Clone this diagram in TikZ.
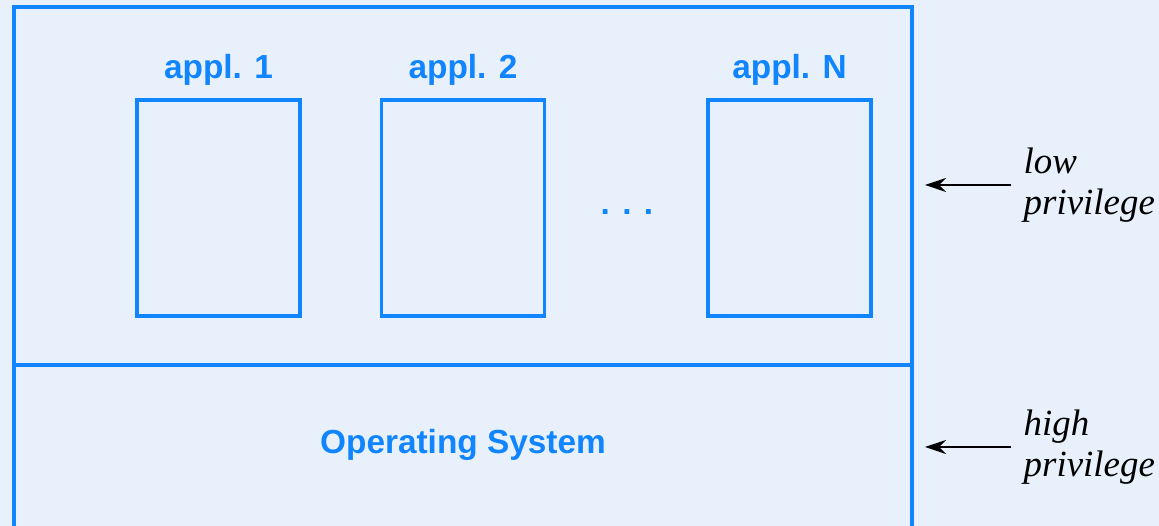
\documentclass[tikz,border=0pt]{standalone}
\usepackage{fontspec}
\setmainfont{Liberation Serif}
\setsansfont{Liberation Sans}
\usepackage{xcolor}
\usetikzlibrary{positioning, arrows.meta}

\definecolor{osblue}{HTML}{1185FF}
\definecolor{osback}{HTML}{E8F0FC}

\begin{document}
\begin{tikzpicture}[
    line width=1.9pt,
    appbox/.style={draw=osblue, rectangle, minimum width=3.26cm, minimum height=4.32cm},
    applabel/.style={text=osblue, font=\sffamily\bfseries\fontsize{19}{22}\selectfont},
    privlabel/.style={font=\itshape\fontsize{21}{23.5}\selectfont, align=left, anchor=west, inner sep=2pt},
    privarrow/.style={draw=black, line width=1.1pt, -{Stealth[length=12pt, width=8pt]}, shorten <=4pt}
]

    % --- Background ---
    \fill[osback] (0,0) rectangle (23.18,10.52);
    \useasboundingbox (0,0) rectangle (23.18,10.52);

    % --- Outer box and layer line ---
    \draw[osblue] (0.28,-0.5) -- (0.28,10.38) -- (18.24,10.38) -- (18.24,-0.5);
    \draw[osblue] (0.28,3.22) -- (18.24,3.22);

    % --- Applications ---
    \node[appbox] (app1) at (4.37, 6.36) {};
    \node[appbox] (app2) at (9.26, 6.36) {};
    \node[appbox] (appN) at (15.79, 6.36) {};

    \node[applabel, above=0.1cm of app1] (app1_lbl) {appl. 1};
    \node[applabel, above=0.1cm of app2] (app2_lbl) {appl. 2};
    \node[applabel, above=0.1cm of appN] (appN_lbl) {appl. N};

    \node[applabel] (dots) at (12.54, 6.28) {. . .};

    % --- Operating System ---
    \node[applabel] (os) at (9.26, 1.62) {Operating System};

    % --- Privilege levels ---
    \node[privlabel] (low) at (20.37, 6.82) {low\\privilege};
    \node[privlabel] (high) at (20.37, 1.58) {high\\privilege};

    \coordinate (low_tip) at (18.5, 6.82);
    \coordinate (high_tip) at (18.5, 1.58);

    \draw[privarrow] (low.west) -- (low_tip);
    \draw[privarrow] (high.west) -- (high_tip);

\end{tikzpicture}
\end{document}
